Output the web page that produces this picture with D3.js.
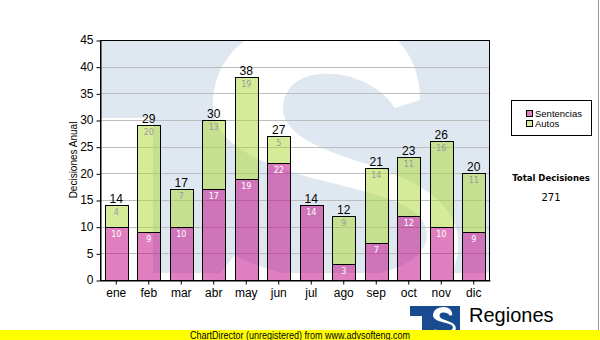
<!DOCTYPE html>
<html>
<head>
<meta charset="utf-8">
<script src="https://cdn.jsdelivr.net/npm/d3@7"></script>
<style>
  body { margin: 0; background: #fff; }
  svg { display: block; }
</style>
</head>
<body>
<svg id="chart" width="600" height="340"></svg>
<script>
// Monthly decisions, stacked by type
const months = ["ene", "feb", "mar", "abr", "may", "jun", "jul", "ago", "sep", "oct", "nov", "dic"];
const sentencias = [10, 9, 10, 17, 19, 22, 14, 3, 7, 12, 10, 9];
const autos = [4, 20, 7, 13, 19, 5, 0, 9, 14, 11, 16, 11];
const seriesNames = ["Sentencias", "Autos"];
const yTicks = [0, 5, 10, 15, 20, 25, 30, 35, 40, 45];

const seriesFill = ["#c00080", "#acd832"];
const seriesLabelColor = ["#ffffff", "#9a9a9a"];

const svg = d3.select("#chart");
const plot = { left: 100, top: 40, right: 490, bottom: 280 };

const x = d3.scaleBand().domain(months).range([plot.left, plot.right])
  .paddingInner(0.29).paddingOuter(0.145);
const y = d3.scaleLinear().domain([0, 45]).range([plot.bottom, plot.top]);

// Logo "S" outline in its own local coordinates
const sPath = "M207 85 L182 93 C167 70 137 57 107 59 C82 61 69 77 70 95 C72 120 107 135 157 150 " +
  "C217 170 249 195 245 235 C242 275 197 295 127 297 C67 299 27 285 2 265 L22 240 " +
  "C47 255 87 265 127 263 C197 260 214 235 214 220 C214 190 167 180 107 165 " +
  "C37 147 0 125 0 90 C0 30 57 0 117 0 C167 0 207 30 207 85 Z";

// Plot background with faded logo watermark
svg.append("clipPath").attr("id", "plotClip")
  .append("rect").attr("x", plot.left).attr("y", plot.top)
  .attr("width", plot.right - plot.left).attr("height", plot.bottom - plot.top);

const wm = svg.append("g").attr("clip-path", "url(#plotClip)");
wm.append("rect").attr("x", plot.left).attr("y", plot.top)
  .attr("width", plot.right - plot.left).attr("height", plot.bottom - plot.top).attr("fill", "#fff");
wm.append("rect").attr("x", plot.left).attr("y", plot.top)
  .attr("width", plot.right - plot.left).attr("height", 78).attr("fill", "#dfe8f1");
wm.append("rect").attr("x", 153).attr("y", plot.top)
  .attr("width", plot.right - 153).attr("height", 233).attr("fill", "#dfe8f1");
wm.append("path").attr("d", sPath).attr("transform", "translate(213,15)").attr("fill", "#fff");

// Grid lines
svg.append("g").selectAll("line")
  .data(yTicks.filter(v => v > 0 && v < 45))
  .join("line")
  .attr("x1", plot.left).attr("x2", plot.right)
  .attr("y1", d => Math.round(y(d)) + 0.5).attr("y2", d => Math.round(y(d)) + 0.5)
  .attr("stroke", "#bdbdbd").attr("stroke-width", 1);

// Stacked bars
const stacked = months.map((m, i) => {
  const vals = [sentencias[i], autos[i]];
  let base = 0;
  return vals.map((v, s) => {
    const seg = { month: m, series: s, value: v, y0: base, y1: base + v };
    base += v;
    return seg;
  });
});
const segments = stacked.flat().filter(d => d.value > 0);

const barG = svg.append("g");
barG.selectAll("rect")
  .data(segments)
  .join("rect")
  .attr("x", d => Math.round(x(d.month)) + 0.5)
  .attr("width", Math.round(x.bandwidth()))
  .attr("y", d => Math.round(y(d.y1)) + 0.5)
  .attr("height", d => Math.round(y(d.y0)) - Math.round(y(d.y1)))
  .attr("fill", d => seriesFill[d.series])
  .attr("fill-opacity", 0.5)
  .attr("stroke", "#000")
  .attr("stroke-width", 1);

// Segment value labels
barG.selectAll("text.seg")
  .data(segments)
  .join("text")
  .attr("class", "seg")
  .attr("x", d => x(d.month) + x.bandwidth() / 2)
  .attr("y", d => y(d.y1) + 10)
  .attr("text-anchor", "middle")
  .attr("font-family", "DejaVu Sans, Verdana, sans-serif")
  .attr("font-size", 8)
  .attr("fill", d => seriesLabelColor[d.series])
  .text(d => d.value);

// Totals above each bar
const totals = months.map((m, i) => ({ month: m, total: sentencias[i] + autos[i] }));
barG.selectAll("text.tot")
  .data(totals)
  .join("text")
  .attr("class", "tot")
  .attr("x", d => x(d.month) + x.bandwidth() / 2)
  .attr("y", d => y(d.total) - 2)
  .attr("text-anchor", "middle")
  .attr("font-family", "Liberation Sans, Arial, sans-serif")
  .attr("font-size", 12)
  .attr("fill", "#000")
  .text(d => d.total);

// Plot frame
svg.append("rect")
  .attr("x", plot.left + 0.5).attr("y", plot.top + 0.5)
  .attr("width", plot.right - plot.left - 1).attr("height", plot.bottom - plot.top)
  .attr("fill", "none").attr("stroke", "#000").attr("stroke-width", 1);

// Axes
const yAxis = svg.append("g")
  .attr("transform", `translate(${plot.left + 0.5},0)`)
  .call(d3.axisLeft(y).tickValues(yTicks).tickSize(4).tickSizeOuter(0).tickPadding(3));
yAxis.select(".domain").attr("stroke", "#000");
yAxis.selectAll(".tick line").attr("stroke", "#000").attr("transform", "translate(0,0.5)");
yAxis.selectAll(".tick text").attr("font-family", "Liberation Sans, Arial, sans-serif")
  .attr("font-size", 12).attr("fill", "#000");

const xAxis = svg.append("g")
  .attr("transform", `translate(0,${plot.bottom + 0.5})`)
  .call(d3.axisBottom(x).tickSize(4).tickSizeOuter(0).tickPadding(4));
xAxis.select(".domain").attr("stroke", "#000");
xAxis.selectAll(".tick line").attr("stroke", "#000");
xAxis.selectAll(".tick text").attr("font-family", "Liberation Sans, Arial, sans-serif")
  .attr("font-size", 12).attr("fill", "#000");

// Y axis title
svg.append("text")
  .attr("transform", `translate(77,${(plot.top + plot.bottom) / 2}) rotate(-90)`)
  .attr("text-anchor", "middle")
  .attr("font-family", "Liberation Sans, Arial, sans-serif")
  .attr("font-size", 10)
  .text("Decisiones Anual");

// Legend
const legend = svg.append("g");
legend.append("rect").attr("x", 511.5).attr("y", 100.5).attr("width", 80).attr("height", 35)
  .attr("fill", "#fff").attr("stroke", "#000");
const li = legend.selectAll("g.item").data(seriesNames).join("g").attr("class", "item")
  .attr("transform", (d, i) => `translate(526,${110 + i * 10})`);
li.append("rect").attr("x", 0.5).attr("y", 0.5).attr("width", 6).attr("height", 6)
  .attr("fill", (d, i) => seriesFill[i]).attr("fill-opacity", 0.5).attr("stroke", "#000");
li.append("text").attr("x", 9).attr("y", 7)
  .attr("font-family", "Liberation Sans, Arial, sans-serif").attr("font-size", 9.5)
  .text(d => d);

// Total summary
const grand = d3.sum(sentencias) + d3.sum(autos);
svg.append("text").attr("x", 551).attr("y", 181).attr("text-anchor", "middle")
  .attr("font-family", "DejaVu Sans, Verdana, sans-serif").attr("font-size", 8.5)
  .attr("font-weight", "bold").text("Total Decisiones");
svg.append("text").attr("x", 551).attr("y", 201).attr("text-anchor", "middle")
  .attr("font-family", "DejaVu Sans, Verdana, sans-serif").attr("font-size", 10)
  .text(grand);

// Right edge rule
svg.append("line").attr("x1", 598.5).attr("x2", 598.5).attr("y1", 0).attr("y2", 330)
  .attr("stroke", "#999").attr("stroke-width", 1);

// Brand logo
const logo = svg.append("g");
logo.append("rect").attr("x", 410).attr("y", 306).attr("width", 50).attr("height", 34).attr("fill", "#184b8f");
logo.append("rect").attr("x", 410).attr("y", 316).attr("width", 12).attr("height", 24).attr("fill", "#fff");
logo.append("path").attr("d", sPath).attr("transform", "translate(433,307) scale(0.093)").attr("fill", "#fff");
logo.append("text").attr("x", 469).attr("y", 322)
  .attr("font-family", "Liberation Sans, Arial, sans-serif").attr("font-size", 20).text("Regiones");
logo.append("text").attr("x", 470).attr("y", 338)
  .attr("font-family", "Liberation Sans, Arial, sans-serif").attr("font-size", 11)
  .text("Tribunal Supremo de Justicia");

// Footer banner
svg.append("rect").attr("x", 0).attr("y", 330).attr("width", 600).attr("height", 10).attr("fill", "#ffff00");
svg.append("text").attr("x", 190).attr("y", 338.5)
  .attr("font-family", "Liberation Sans, Arial, sans-serif").attr("font-size", 10)
  .attr("textLength", 220).attr("lengthAdjust", "spacingAndGlyphs")
  .text("ChartDirector (unregistered) from www.advsofteng.com");
</script>
</body>
</html>
